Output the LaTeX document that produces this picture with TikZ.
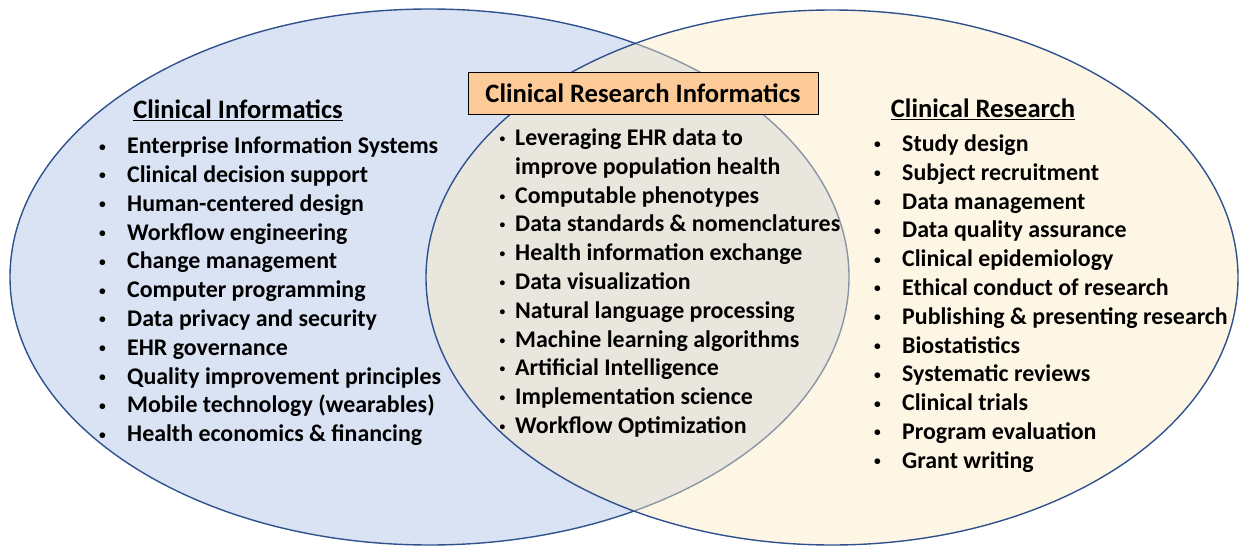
\documentclass[tikz,border=0pt]{standalone}
\usepackage{fontspec}
\setmainfont{Carlito}
\usetikzlibrary{positioning}
\definecolor{ciblue}{RGB}{218,227,243}
\definecolor{ciline}{RGB}{47,82,143}
\definecolor{crcream}{RGB}{253,235,194}
\definecolor{crihead}{RGB}{253,203,151}
% one bullet line of a list
\newcommand{\itm}[1]{\makebox[28pt][l]{\raisebox{2.6pt}{\fontsize{13.5}{13.5}\selectfont\textbullet}}#1}
\newcommand{\itn}[1]{\makebox[16pt][l]{\hspace{0.5pt}\raisebox{3pt}{\fontsize{11.5}{11.5}\selectfont\textbullet}}#1}

\begin{document}
\begin{tikzpicture}[x=1pt,y=-1pt,
    listtext/.style={align=left, inner sep=0pt, anchor=north west,
      font=\bfseries\fontsize{23.9}{28.8}\selectfont},
    headtext/.style={inner sep=0pt, font=\bfseries\fontsize{26.6}{30}\selectfont}]
\useasboundingbox (0,0) rectangle (1239,546);

% Clinical Informatics (left set)
\fill[ciblue] (429.5,277) ellipse [x radius=419.5pt, y radius=268pt];
\draw[ciline, line width=1.4pt] (429.5,277) ellipse [x radius=419.5pt, y radius=268pt];

% Clinical Research (right set), seen through on the overlap
\fill[crcream, fill opacity=0.44] (832,277.5) ellipse [x radius=406pt, y radius=267.5pt];
\draw[ciline, line width=1.4pt] (832,277.5) ellipse [x radius=406pt, y radius=267.5pt];

% headings
\node[headtext] (cihead) at (238,110) {\underline{Clinical Informatics}};
\node[headtext] (crhead) at (983,109) {\underline{Clinical Research}};
\node[headtext, fill=crihead, draw=black, line width=0.8pt,
      minimum width=350pt, minimum height=42pt] (crihead) at (643,93)
      {Clinical Research Informatics};

% left list
\node[listtext] (cilist) at (99,136.6) {%
\itm{Enterprise Information Systems}\\
\itm{Clinical decision support}\\
\itm{Human-centered design}\\
\itm{Workflow engineering}\\
\itm{Change management}\\
\itm{Computer programming}\\
\itm{Data privacy and security}\\
\itm{EHR governance}\\
\itm{Quality improvement principles}\\
\itm{Mobile technology (wearables)}\\
\itm{Health economics \& financing}};

% overlap list
\node[listtext] (crilist) at (499,128.6) {%
\itn{Leveraging EHR data to}\\
\hspace*{16pt}improve population health\\
\itn{Computable phenotypes}\\
\itn{Data standards \& nomenclatures}\\
\itn{Health information exchange}\\
\itn{Data visualization}\\
\itn{Natural language processing}\\
\itn{Machine learning algorithms}\\
\itn{Artificial Intelligence}\\
\itn{Implementation science}\\
\itn{Workflow Optimization}};

% right list
\node[listtext] (crlist) at (874,134.6) {%
\itm{Study design}\\
\itm{Subject recruitment}\\
\itm{Data management}\\
\itm{Data quality assurance}\\
\itm{Clinical epidemiology}\\
\itm{Ethical conduct of research}\\
\itm{Publishing \& presenting research}\\
\itm{Biostatistics}\\
\itm{Systematic reviews}\\
\itm{Clinical trials}\\
\itm{Program evaluation}\\
\itm{Grant writing}};
\end{tikzpicture}
\end{document}
